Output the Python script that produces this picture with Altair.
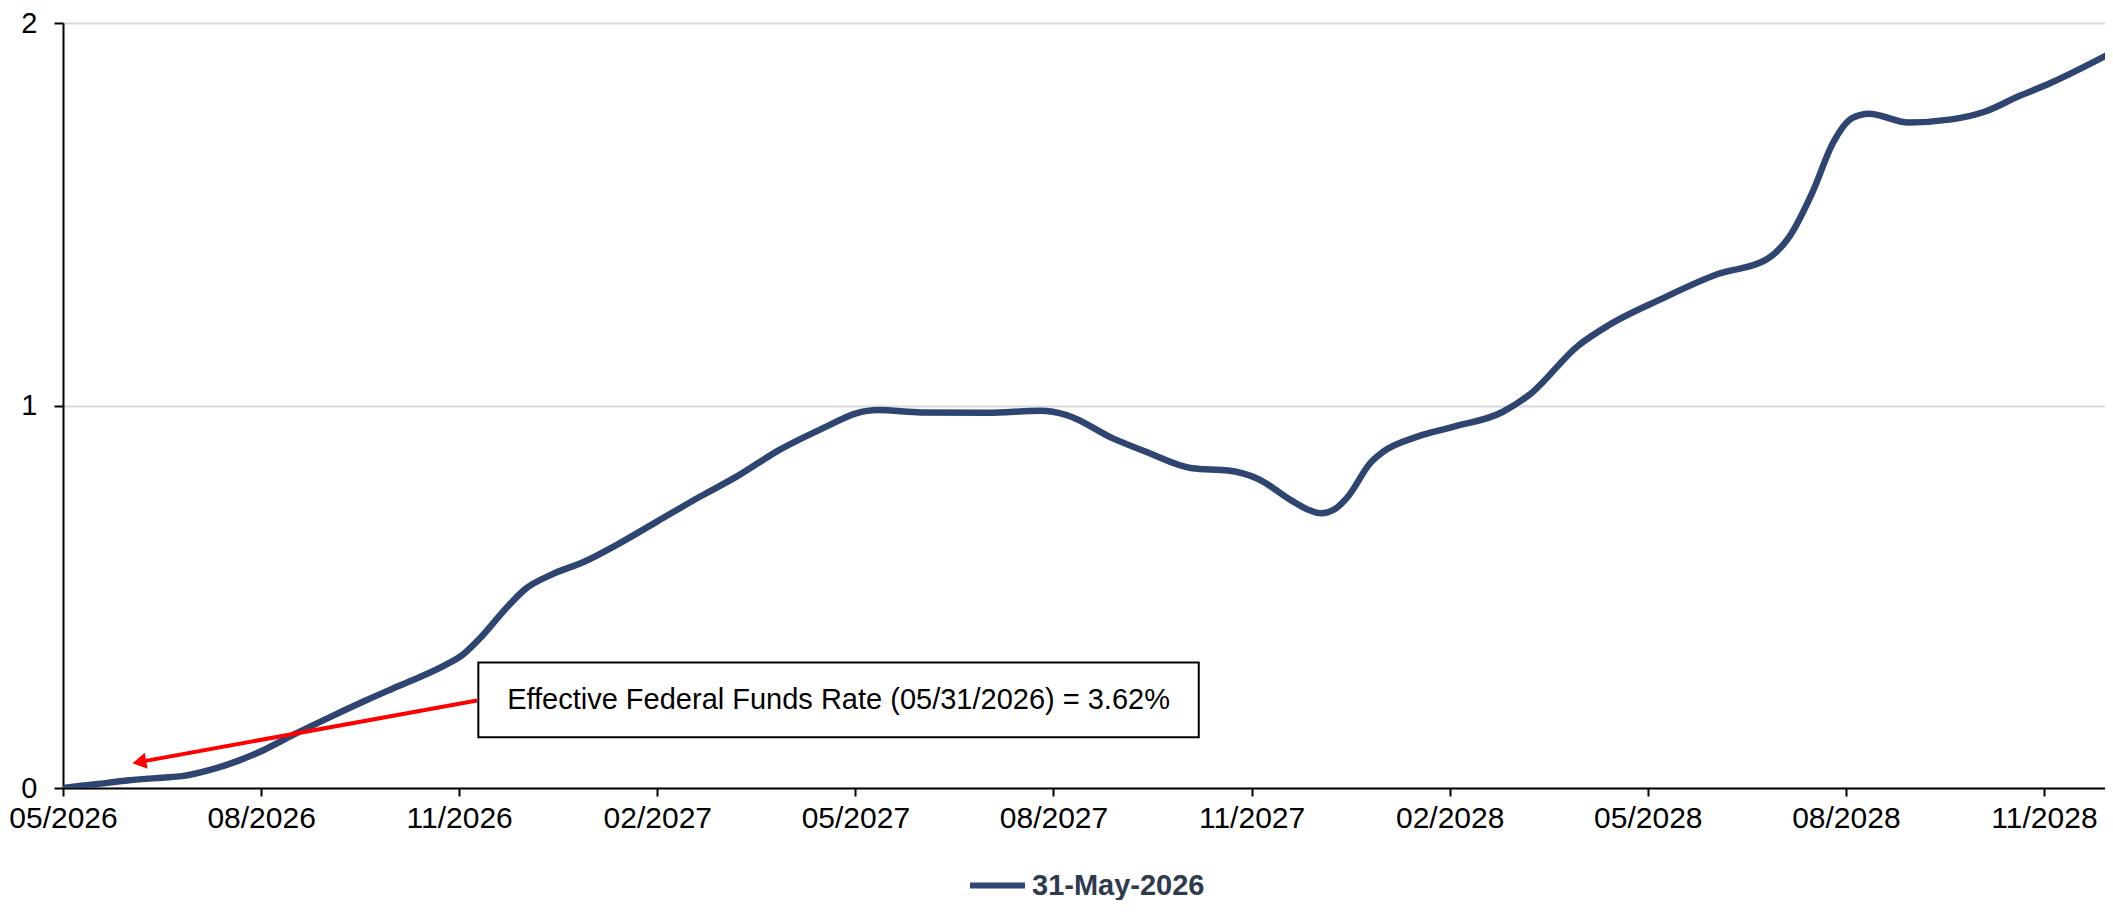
import json
import altair as alt
import pandas as pd

# ---- data ----
series_name = "31-May-2026"
months = [0.0, 0.5, 1.0, 1.5, 1.8, 2.2, 2.65, 3.05, 3.5, 4.1, 4.6, 5.1, 5.75, 6.05,
          6.35, 6.7, 7.0, 7.4, 7.9, 8.4, 9.0, 9.65, 10.2, 10.85, 11.55, 12.0, 12.35,
          13.0, 14.0, 14.8, 15.2, 15.9, 16.4, 17.1, 17.65, 18.1, 18.6, 18.85, 19.05,
          19.25, 19.45, 19.8, 20.0, 20.5, 21.05, 21.8, 22.2, 22.95, 23.4, 24.2, 25.05,
          25.8, 26.15, 26.5, 26.8, 27.1, 27.35, 27.95, 28.6, 29.1, 29.6, 30.1, 31.0]
values = [0.0, 0.010, 0.020, 0.027, 0.031, 0.046, 0.071, 0.100, 0.140, 0.190, 0.230,
          0.268, 0.318, 0.348, 0.398, 0.468, 0.520, 0.558, 0.592, 0.637, 0.697, 0.762,
          0.814, 0.884, 0.944, 0.979, 0.988, 0.982, 0.981, 0.986, 0.975, 0.914, 0.879,
          0.836, 0.830, 0.808, 0.752, 0.728, 0.718, 0.728, 0.760, 0.850, 0.880, 0.918,
          0.944, 0.983, 1.027, 1.157, 1.209, 1.278, 1.343, 1.382, 1.443, 1.560, 1.685,
          1.752, 1.763, 1.740, 1.748, 1.768, 1.807, 1.843, 1.920]
tick_positions = [0, 3, 6, 9, 12, 15, 18, 21, 24, 27, 30]
tick_labels = ["05/2026", "08/2026", "11/2026", "02/2027", "05/2027", "08/2027",
               "11/2027", "02/2028", "05/2028", "08/2028", "11/2028"]
y_ticks = [0, 1, 2]
y_tick_labels = ["0", "1", "2"]

annotation_text = "Effective Federal Funds Rate (05/31/2026) = 3.62%"
box_x = [6.29, 17.2]
box_y = [0.133, 0.328]
arrow_from = [6.27, 0.229]
arrow_head = [1.19, 0.069]

FONT = "Liberation Sans"
LINE_COLOR = "#2F4571"
MONTH_PX = 2047 / 31.0          # pixels per month in the reference
PLOT_W = 2042                   # keep the page inside the 2113 px window
PLOT_H = 765
X_MAX = PLOT_W / MONTH_PX

df = pd.DataFrame({"m": months, "v": values, "series": series_name})

x_label_expr = "%s[round(datum.value / 3)]" % json.dumps(tick_labels)
y_label_expr = "%s[round(datum.value)]" % json.dumps(y_tick_labels)

x_scale = alt.Scale(domain=[0, X_MAX], nice=False, zero=False)
y_scale = alt.Scale(domain=[0, 2], nice=False, zero=True)

x_axis = alt.Axis(values=tick_positions, labelExpr=x_label_expr, title=None,
                  grid=False, domainColor="black", domainWidth=2,
                  tickColor="black", tickWidth=2, tickSize=8,
                  labelFont=FONT, labelFontSize=30, labelColor="black",
                  labelPadding=7, labelFlush=False, labelOverlap=False)
y_axis = alt.Axis(values=y_ticks, tickCount=3, labelExpr=y_label_expr, title=None,
                  grid=True, gridColor="#D9D9D9", gridWidth=2,
                  domainColor="black", domainWidth=2,
                  tickColor="black", tickWidth=2, tickSize=9,
                  labelFont=FONT, labelFontSize=29, labelColor="black",
                  labelPadding=17, labelOverlap=False)

line = alt.Chart(df).mark_line(
    interpolate="monotone", strokeWidth=6.5, clip=True
).encode(
    x=alt.X("m:Q", scale=x_scale, axis=x_axis),
    y=alt.Y("v:Q", scale=y_scale, axis=y_axis),
    color=alt.Color("series:N",
                    scale=alt.Scale(domain=[series_name], range=[LINE_COLOR]),
                    legend=alt.Legend(title=None, orient="none",
                                      legendX=904, legendY=832,
                                      symbolType="stroke", symbolSize=3025,
                                      symbolStrokeWidth=6, labelFont=FONT,
                                      labelFontSize=29, labelFontWeight="bold",
                                      labelColor="#2E3B4E", labelOffset=4,
                                      labelLimit=500)),
)

arrow_df = pd.DataFrame({"x": [arrow_from[0]], "y": [arrow_from[1]],
                         "x2": [arrow_head[0]], "y2": [arrow_head[1]]})
arrow_line = alt.Chart(arrow_df).mark_rule(color="#FF0000", strokeWidth=4).encode(
    x=alt.X("x:Q", scale=x_scale, axis=x_axis),
    y=alt.Y("y:Q", scale=y_scale, axis=y_axis),
    x2="x2:Q", y2="y2:Q")
arrow_tip = alt.Chart(arrow_df).mark_point(
    shape="triangle", filled=True, color="#FF0000", size=260, angle=259.6, opacity=1
).encode(x=alt.X("x2:Q", scale=x_scale, axis=x_axis),
         y=alt.Y("y2:Q", scale=y_scale, axis=y_axis))

box_df = pd.DataFrame({"x": [box_x[0]], "x2": [box_x[1]], "y": [box_y[0]], "y2": [box_y[1]],
                       "cx": [(box_x[0] + box_x[1]) / 2], "cy": [(box_y[0] + box_y[1]) / 2],
                       "t": [annotation_text]})
box = alt.Chart(box_df).mark_rect(fill="white", stroke="black", strokeWidth=2).encode(
    x=alt.X("x:Q", scale=x_scale, axis=x_axis), x2="x2:Q",
    y=alt.Y("y:Q", scale=y_scale, axis=y_axis), y2="y2:Q")
box_text = alt.Chart(box_df).mark_text(
    font=FONT, fontSize=29, color="black", align="center", baseline="middle"
).encode(x=alt.X("cx:Q", scale=x_scale, axis=x_axis),
         y=alt.Y("cy:Q", scale=y_scale, axis=y_axis), text="t:N")

chart = alt.layer(line, arrow_line, arrow_tip, box, box_text).properties(
    width=PLOT_W, height=PLOT_H,
    autosize=alt.AutoSizeParams(type="none"),
    padding={"left": 55, "top": 15, "right": 0, "bottom": 112},
).configure_view(stroke=None).configure(background="white")

chart.save("out.html", embed_options={"renderer": "svg", "actions": False})
